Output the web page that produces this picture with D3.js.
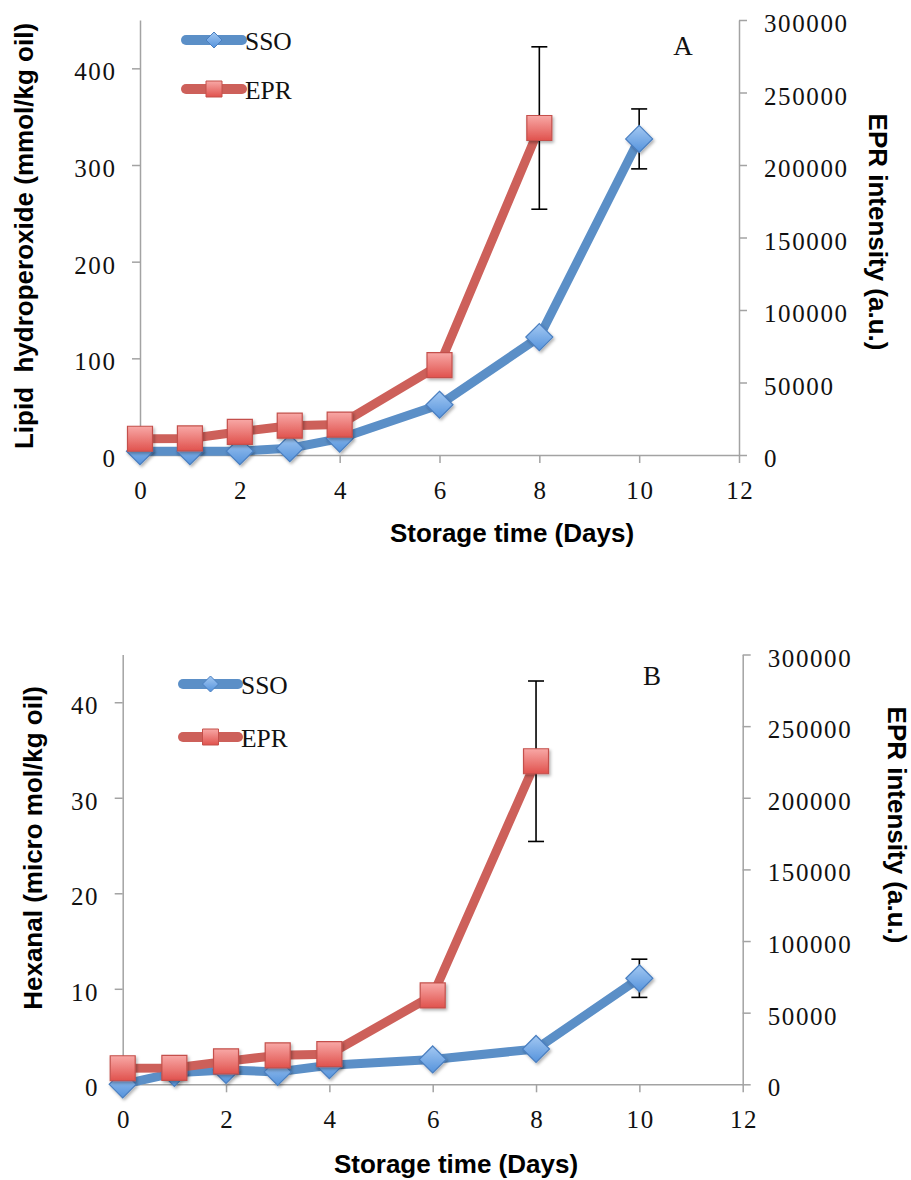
<!DOCTYPE html>
<html>
<head>
<meta charset="utf-8">
<script src="https://cdn.jsdelivr.net/npm/d3@7/dist/d3.min.js"></script>
<style>
  html, body { margin: 0; padding: 0; background: #ffffff; }
  svg { display: block; }
</style>
</head>
<body>
<svg id="chart" width="911" height="1180"></svg>
<script>
// Storage days for each series
const ssoDays = [0, 1, 2, 3, 4, 6, 8, 10];
const eprDays = [0, 1, 2, 3, 4, 6, 8];

// Panel A: lipid hydroperoxide of SSO (mmol/kg oil)
const ssoHydroperoxide = [4, 4, 4, 7, 17, 52, 122, 327];
const ssoHydroperoxideErr = [null, null, null, null, null, null, null, 31];

// Panel B: hexanal of SSO (micro mol/kg oil)
const ssoHexanal = [0, 1.2, 1.5, 1.3, 2.0, 2.6, 3.7, 11.1];
const ssoHexanalErr = [null, null, null, null, null, null, null, 2.0];

// EPR intensity (a.u.), shared by both panels
const eprIntensity = [11200, 11400, 16000, 20200, 21000, 62000, 225500];
const eprIntensityErr = [null, null, null, null, null, null, 56000];

// Tick values
const xTicks = [0, 2, 4, 6, 8, 10, 12];
const leftTicksA = [0, 100, 200, 300, 400];
const leftTicksB = [0, 10, 20, 30, 40];
const rightTicks = [0, 50000, 100000, 150000, 200000, 250000, 300000];

// Labels
const seriesNames = ["SSO", "EPR"];
const xTitle = "Storage time (Days)";
const leftTitleA = "Lipid  hydroperoxide (mmol/kg oil)";
const leftTitleB = "Hexanal (micro mol/kg oil)";
const rightTitle = "EPR intensity (a.u.)";

const BLUE = "#5b8fc7", RED = "#cd605a";
const AXIS = "#a3a3a3";
const SERIF = "'Liberation Serif', 'DejaVu Serif', serif";
const SANS = "'Liberation Sans', Arial, sans-serif";

const svg = d3.select("#chart");
const defs = svg.append("defs");

// marker gradients and shadow
const gRed = defs.append("linearGradient").attr("id", "gradRed")
  .attr("x1", 0).attr("y1", 0).attr("x2", 0).attr("y2", 1);
gRed.append("stop").attr("offset", "0%").attr("stop-color", "#f8a8a6");
gRed.append("stop").attr("offset", "100%").attr("stop-color", "#e0524d");
const gBlue = defs.append("linearGradient").attr("id", "gradBlue")
  .attr("x1", 0).attr("y1", 0).attr("x2", 0).attr("y2", 1);
gBlue.append("stop").attr("offset", "0%").attr("stop-color", "#a3c8f2");
gBlue.append("stop").attr("offset", "100%").attr("stop-color", "#5593dc");
const shadow = defs.append("filter").attr("id", "shadow")
  .attr("x", "-40%").attr("y", "-40%").attr("width", "180%").attr("height", "180%");
shadow.append("feDropShadow").attr("dx", 1.5).attr("dy", 2).attr("stdDeviation", 1.5)
  .attr("flood-color", "#000").attr("flood-opacity", 0.3);

function diamondPath(size) {
  const h = size / 2;
  return `M0,${-h}L${h},0L0,${h}L${-h},0Z`;
}
function squarePath(size) {
  const h = size / 2;
  return `M${-h},${-h}H${h}V${h}H${-h}Z`;
}

function drawPanel(cfg) {
  const g = svg.append("g");
  const x = d3.scaleLinear().domain([0, 12]).range([cfg.left, cfg.right]);
  const yL = d3.scaleLinear().domain([0, cfg.leftMax]).range([cfg.bottom, cfg.top]);
  const yR = d3.scaleLinear().domain([0, 300000]).range([cfg.bottom, cfg.top]);

  const styleAxis = sel => {
    sel.select(".domain").attr("stroke", AXIS).attr("stroke-width", 1.5);
    sel.selectAll(".tick line").attr("stroke", AXIS).attr("stroke-width", 1.5);
    sel.selectAll(".tick text").attr("fill", "#111")
      .style("font-family", SERIF).style("font-size", "25px")
      .style("letter-spacing", "1.6px");
  };

  // axes
  g.append("g").attr("transform", `translate(0,${cfg.bottom})`)
    .call(d3.axisBottom(x).tickValues(xTicks).tickFormat(d3.format("d"))
      .tickSizeInner(8).tickSizeOuter(0).tickPadding(18))
    .call(styleAxis)
    .selectAll(".tick text").attr("dx", "0.8");
  g.append("g").attr("transform", `translate(${cfg.left},0)`)
    .call(d3.axisLeft(yL).tickValues(cfg.leftTicks).tickFormat(d3.format("d"))
      .tickSizeInner(8).tickSizeOuter(0).tickPadding(15.5))
    .call(styleAxis)
    .selectAll(".tick text").attr("dy", "0.46em");
  g.append("g").attr("transform", `translate(${cfg.right},0)`)
    .call(d3.axisRight(yR).tickValues(rightTicks).tickFormat(d3.format("d"))
      .tickSizeInner(8).tickSizeOuter(0).tickPadding(17))
    .call(styleAxis)
    .selectAll(".tick text").attr("dy", "0.46em");

  // axis titles
  g.append("text").attr("x", cfg.xTitleX).attr("y", cfg.xTitleY)
    .attr("text-anchor", "middle").style("font-family", SANS)
    .style("font-weight", "bold").style("font-size", "26px").text(xTitle);
  g.append("text")
    .attr("transform", `translate(${cfg.leftTitleX},${cfg.leftTitleY}) rotate(-90)`)
    .attr("text-anchor", "middle").attr("dy", "0.35em").style("font-family", SANS)
    .style("white-space", "pre").attr("xml:space", "preserve")
    .style("font-weight", "bold").style("font-size", "26px").text(cfg.leftTitle);
  g.append("text")
    .attr("transform", `translate(${cfg.rightTitleX},${cfg.rightTitleY}) rotate(90)`)
    .attr("text-anchor", "middle").attr("dy", "0.35em").style("font-family", SANS)
    .style("font-weight", "bold").style("font-size", "26px").text(rightTitle);

  // panel letter
  g.append("text").attr("x", cfg.letterX).attr("y", cfg.letterY)
    .attr("text-anchor", "middle").style("font-family", SERIF)
    .style("font-size", "27px").attr("fill", "#111").text(cfg.letter);

  const sso = ssoDays.map((d, i) => ({ d, v: cfg.ssoValues[i], e: cfg.ssoErr[i] }));
  const epr = eprDays.map((d, i) => ({ d, v: eprIntensity[i], e: eprIntensityErr[i] }));

  const lineL = d3.line().x(p => x(p.d)).y(p => yL(p.v));
  const lineR = d3.line().x(p => x(p.d)).y(p => yR(p.v));

  // lines
  g.append("path").datum(sso).attr("d", lineL).attr("fill", "none")
    .attr("stroke", BLUE).attr("stroke-width", 9).attr("stroke-linejoin", "round")
    .attr("stroke-linecap", "round");
  g.append("path").datum(epr).attr("d", lineR).attr("fill", "none")
    .attr("stroke", RED).attr("stroke-width", 9).attr("stroke-linejoin", "round")
    .attr("stroke-linecap", "round");

  // error bars
  const drawErr = (data, y) => {
    const eg = g.append("g").attr("stroke", "#000").attr("stroke-width", 1.6);
    data.filter(p => p.e != null).forEach(p => {
      const cx = x(p.d), y1 = y(p.v + p.e), y2 = y(p.v - p.e);
      eg.append("line").attr("x1", cx).attr("x2", cx).attr("y1", y1).attr("y2", y2);
      eg.append("line").attr("x1", cx - 8).attr("x2", cx + 8).attr("y1", y1).attr("y2", y1);
      eg.append("line").attr("x1", cx - 8).attr("x2", cx + 8).attr("y1", y2).attr("y2", y2);
    });
  };
  drawErr(sso, yL);
  drawErr(epr, yR);

  // markers
  g.append("g").selectAll("path").data(sso).join("path")
    .attr("transform", p => `translate(${x(p.d)},${yL(p.v)})`)
    .attr("d", diamondPath(27)).attr("fill", "url(#gradBlue)")
    .attr("stroke", "#4a7fc0").attr("stroke-width", 1.2).attr("filter", "url(#shadow)");
  g.append("g").selectAll("path").data(epr).join("path")
    .attr("transform", p => `translate(${x(p.d)},${yR(p.v)})`)
    .attr("d", squarePath(25)).attr("fill", "url(#gradRed)")
    .attr("stroke", "#c4504b").attr("stroke-width", 1.2).attr("filter", "url(#shadow)");

  // legend
  const legend = [
    { name: seriesNames[0], color: BLUE, shape: diamondPath(16), fill: "url(#gradBlue)", stroke: "#4a7fc0", y: cfg.legendY[0] },
    { name: seriesNames[1], color: RED, shape: squarePath(16), fill: "url(#gradRed)", stroke: "#c4504b", y: cfg.legendY[1] }
  ];
  legend.forEach(item => {
    g.append("line").attr("x1", cfg.legendX0).attr("x2", cfg.legendX1)
      .attr("y1", item.y).attr("y2", item.y).attr("stroke", item.color)
      .attr("stroke-width", 10).attr("stroke-linecap", "round");
    g.append("path").attr("transform", `translate(${(cfg.legendX0 + cfg.legendX1) / 2},${item.y})`)
      .attr("d", item.shape).attr("fill", item.fill).attr("stroke", item.stroke).attr("stroke-width", 1);
    g.append("text").attr("x", cfg.legendX1 + 3).attr("y", item.y + 10)
      .style("font-family", SERIF).style("font-size", "25.5px").attr("fill", "#111").text(item.name);
  });
}

drawPanel({
  left: 140, right: 739, top: 20, bottom: 455,
  leftMax: 450, leftTicks: leftTicksA, leftTitle: leftTitleA,
  ssoValues: ssoHydroperoxide, ssoErr: ssoHydroperoxideErr,
  xTitleX: 512, xTitleY: 542,
  leftTitleX: 24, leftTitleY: 236,
  rightTitleX: 878, rightTitleY: 232,
  letter: "A", letterX: 683, letterY: 55,
  legendX0: 186, legendX1: 242, legendY: [40, 89]
});

drawPanel({
  left: 122.7, right: 742.7, top: 654.5, bottom: 1084.3,
  leftMax: 45, leftTicks: leftTicksB, leftTitle: leftTitleB,
  ssoValues: ssoHexanal, ssoErr: ssoHexanalErr,
  xTitleX: 456, xTitleY: 1173,
  leftTitleX: 33, leftTitleY: 848,
  rightTitleX: 897, rightTitleY: 825,
  letter: "B", letterX: 652, letterY: 685,
  legendX0: 183, legendX1: 238, legendY: [684, 737]
});
</script>
</body>
</html>
